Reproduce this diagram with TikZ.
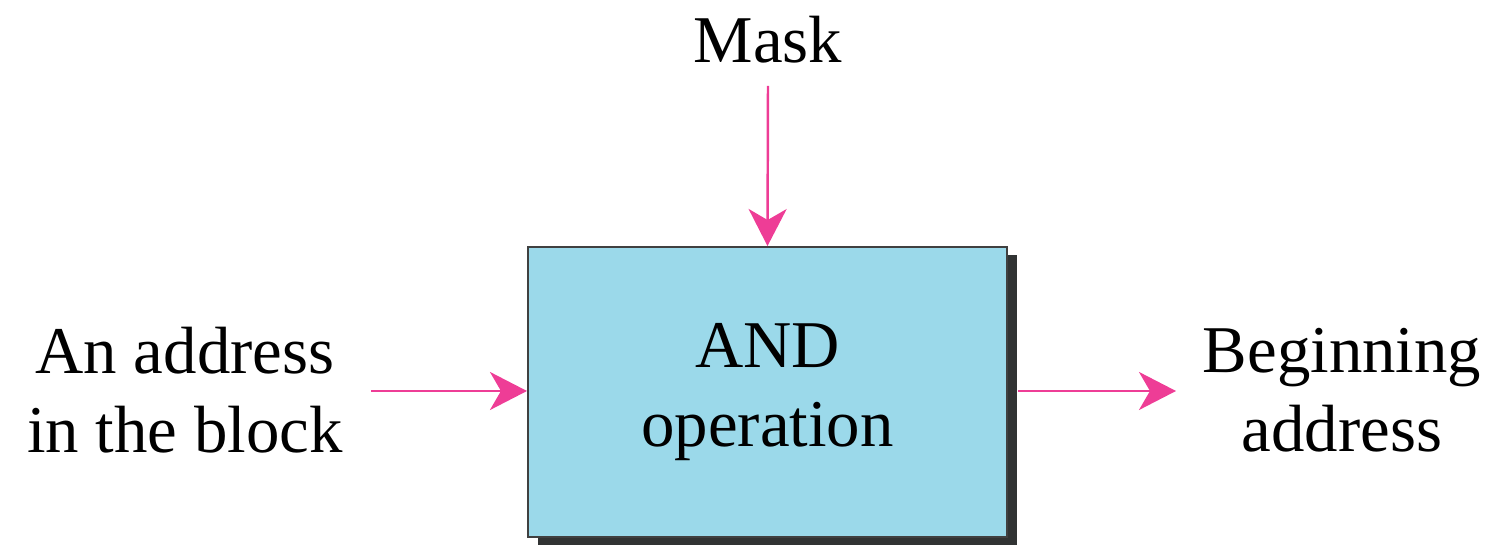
\documentclass[tikz,border=0pt]{standalone}
\usepackage{fontspec}
\setmainfont{Liberation Serif}
\usepackage{xcolor}
\usetikzlibrary{arrows.meta}
\definecolor{boxblue}{HTML}{9BD9EA}
\definecolor{arrowpink}{HTML}{EE3D96}
\definecolor{shadowgray}{HTML}{313333}

\begin{document}
\begin{tikzpicture}[x=0.01cm, y=-0.01cm, font=\fontsize{19}{22.5}\selectfont,
    flow/.style={draw=arrowpink, line width=0.7pt, -{Stealth[length=0.37cm, width=0.38cm, inset=0.11cm]}, arrowpink},
    lbl/.style={align=center, inner sep=0pt}]
    \useasboundingbox (0, 0) rectangle (1499, 546);

    % shadow + box
    \node[fill=shadowgray, minimum width=4.79cm, minimum height=2.9cm, inner sep=0pt] (shadow) at (777.5, 400) {};
    \node[fill=boxblue, draw=black!75, line width=0.5pt, minimum width=4.79cm, minimum height=2.9cm, inner sep=0pt, lbl] (and) at (767.5, 392) {AND\\operation};

    \node[lbl] (mask) at (768, 40) {Mask};
    \node[lbl] (addr) at (185, 390) {An address\\in the block};
    \node[lbl] (begin) at (1342, 390) {Beginning\\address};

    \coordinate (maskend) at (768, 86);
    \coordinate (addrend) at (371, 391);
    \coordinate (beginend) at (1176, 391);

    \draw [flow] (maskend) -- (and.north);
    \draw [flow] (addrend) -- (and.west |- addrend);
    \draw [flow] (shadow.east |- addrend) -- (beginend);
\end{tikzpicture}
\end{document}
